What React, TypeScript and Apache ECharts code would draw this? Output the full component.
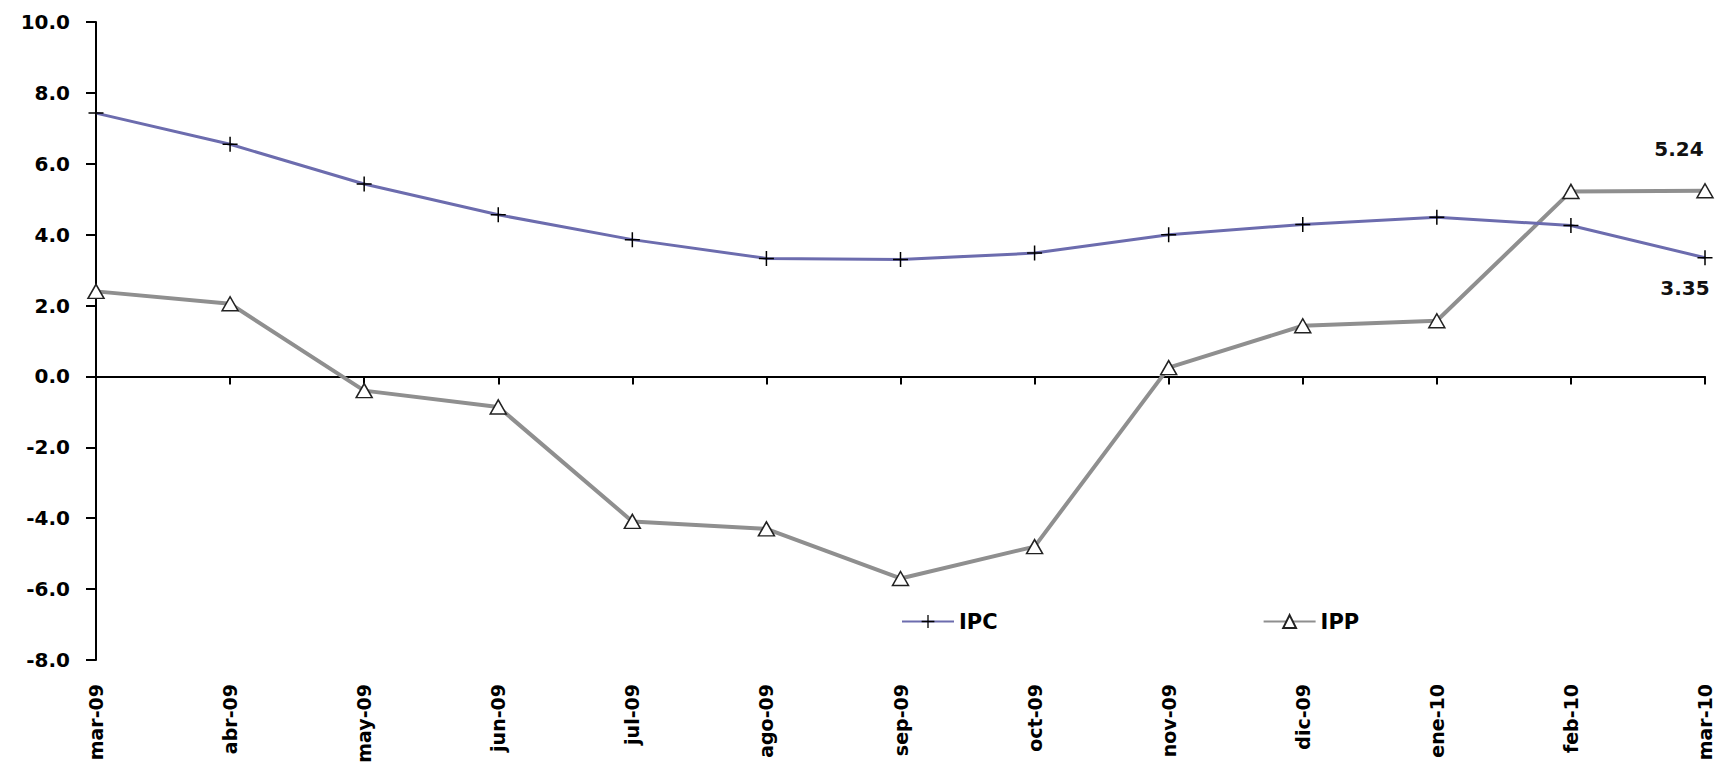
import React, { useEffect, useRef } from "react";
import * as echarts from "echarts";

const categories = ["mar-09", "abr-09", "may-09", "jun-09", "jul-09", "ago-09", "sep-09", "oct-09", "nov-09", "dic-09", "ene-10", "feb-10", "mar-10"];
const ipcValues = [7.43, 6.55, 5.43, 4.56, 3.86, 3.33, 3.30, 3.48, 4.00, 4.29, 4.49, 4.26, 3.35];
const ippValues = [2.40, 2.05, -0.40, -0.86, -4.09, -4.30, -5.70, -4.80, 0.25, 1.43, 1.57, 5.22, 5.24];
const yMin = -8;
const yMax = 10;
const yInterval = 2;
const seriesNames = ["IPC", "IPP"];

const FONT = "DejaVu Sans";
const CROSS = "path://M9,0H11V20H9Z M0,9H20V11H0Z";

export default function App() {
  const ref = useRef<HTMLDivElement>(null);
  useEffect(() => {
    document.body.style.margin = "0";
    const chart = echarts.init(ref.current!, null, { renderer: "svg" });
    const last = categories.length - 1;
    const endLabel = (position: string, offset: number[]) => ({
      show: true,
      position,
      offset,
      formatter: (p: any) => Number(p.value).toFixed(2),
      fontFamily: FONT,
      fontWeight: "bold",
      fontSize: 20,
      color: "#111",
    });
    const ipcData = ipcValues.map((v, i) =>
      i === last ? { value: v, label: endLabel("bottom", [-20, 8]) } : v
    );
    const ippData = ippValues.map((v, i) =>
      i === last ? { value: v, label: endLabel("top", [-26, -19]) } : v
    );
    chart.setOption({
      animation: false,
      backgroundColor: "#fff",
      grid: { left: 96, right: 20, top: 22, bottom: 106, containLabel: false },
      legend: {
        left: 896,
        top: 606,
        itemWidth: 52,
        itemHeight: 16,
        itemGap: 265,
        textStyle: { fontFamily: FONT, fontWeight: "bold", fontSize: 21, color: "#000" },
        data: seriesNames,
      },
      xAxis: [
        {
          type: "category",
          data: categories,
          boundaryGap: false,
          position: "bottom",
          axisLine: { show: false, onZero: false },
          axisTick: { show: false },
          splitLine: { show: false },
          axisLabel: {
            rotate: 90,
            margin: 24,
            interval: 0,
            fontFamily: FONT,
            fontWeight: "bold",
            fontSize: 19,
            color: "#000",
          },
        },
        {
          type: "category",
          data: categories,
          boundaryGap: false,
          position: "top",
          axisLine: { show: true, onZero: true, lineStyle: { color: "#000", width: 2 } },
          axisTick: { show: true, inside: true, length: 8, interval: 0, lineStyle: { color: "#000", width: 2 } },
          axisLabel: { show: false },
          splitLine: { show: false },
        },
      ],
      yAxis: {
        type: "value",
        min: yMin,
        max: yMax,
        interval: yInterval,
        axisLine: { show: true, lineStyle: { color: "#000", width: 2 } },
        axisTick: { show: true, length: 10, lineStyle: { color: "#000", width: 2 } },
        splitLine: { show: false },
        axisLabel: {
          margin: 26,
          fontFamily: FONT,
          fontWeight: "bold",
          fontSize: 20,
          color: "#000",
          formatter: (v: number) => v.toFixed(1),
        },
      },
      series: [
        {
          name: seriesNames[0],
          type: "line",
          xAxisIndex: 0,
          data: ipcData,
          symbol: CROSS,
          symbolSize: 15,
          showAllSymbol: true,
          lineStyle: { color: "#6c6cae", width: 3 },
          itemStyle: { color: "#000", borderWidth: 0 },
          z: 3,
        },
        {
          name: seriesNames[1],
          type: "line",
          xAxisIndex: 0,
          data: ippData,
          symbol: "triangle",
          symbolSize: [16, 14],
          showAllSymbol: true,
          lineStyle: { color: "#8f8f8f", width: 4 },
          itemStyle: { color: "#fff", borderColor: "#222", borderWidth: 1.5 },
          z: 2,
        },
      ],
    });
    return () => chart.dispose();
  }, []);
  return <div ref={ref} style={{ width: 1725, height: 766 }} />;
}
